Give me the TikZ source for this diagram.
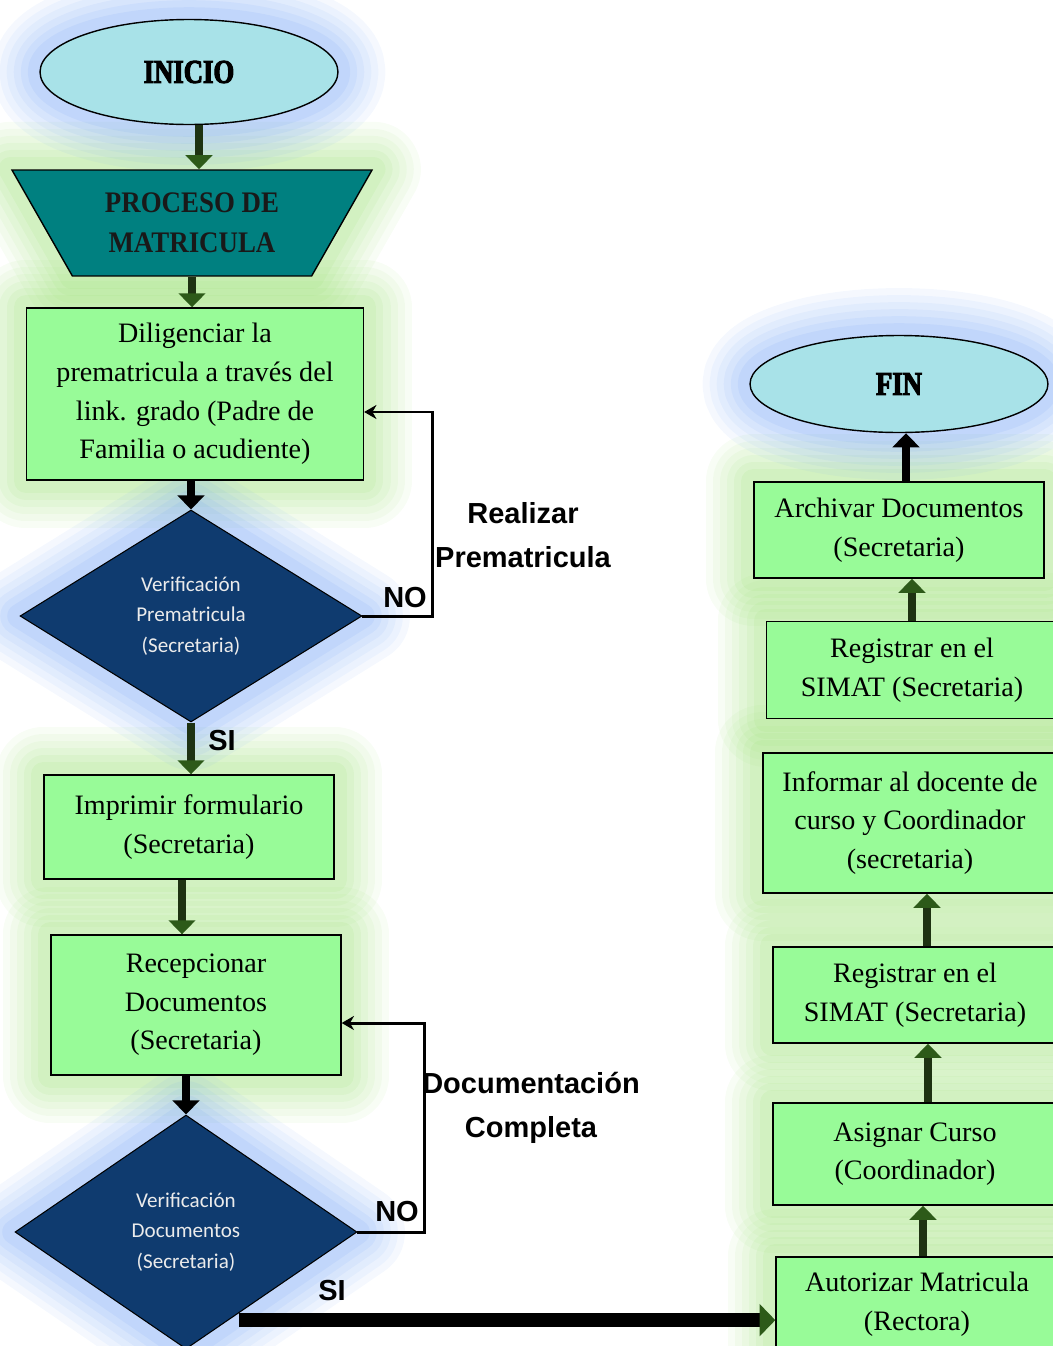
\documentclass[tikz,border=0pt]{standalone}
\usepackage{fontspec}
\setmainfont{Liberation Serif}
\newfontfamily\labelfont{Liberation Sans}
\newfontfamily\diamondfont{Carlito}
\newfontfamily\startfont[FakeStretch=0.8,FakeBold=3]{Liberation Serif Bold}
\newfontfamily\procfont[FakeStretch=0.9]{Liberation Serif Bold}
\usetikzlibrary{shapes.geometric, arrows.meta, backgrounds, calc}

\definecolor{boxgreen}{RGB}{152,251,152}
\definecolor{ovalblue}{RGB}{168,226,232}
\definecolor{procteal}{RGB}{0,128,128}
\definecolor{decblue}{RGB}{15,59,111}
\definecolor{glowgreen}{RGB}{150,222,110}
\definecolor{glowblue}{RGB}{110,160,245}
\definecolor{arrowdark}{RGB}{30,50,18}
\definecolor{arrowgreen}{RGB}{45,90,25}

\tikzset{
  glow/.style={preaction={draw=#1, line width=54pt, opacity=0.07, line join=round},
               preaction={draw=#1, line width=46pt, opacity=0.07, line join=round},
               preaction={draw=#1, line width=38pt, opacity=0.08, line join=round},
               preaction={draw=#1, line width=30pt, opacity=0.09, line join=round},
               preaction={draw=#1, line width=22pt, opacity=0.1, line join=round},
               preaction={draw=#1, line width=14pt, opacity=0.12, line join=round}},
  startoval/.style={ellipse, draw, line width=0.8pt, fill=ovalblue,
               minimum width=5.96cm, minimum height=2.1cm,
               font=\startfont\fontsize{19}{22}\selectfont},
  procshape/.style={trapezium, shape border rotate=180, trapezium left angle=57,
               trapezium right angle=57, trapezium stretches=true,
               minimum width=7.22cm, minimum height=2.12cm, draw, line width=0.8pt,
               fill=procteal, align=center, text=black!90,
               font=\procfont\fontsize{17}{23}\selectfont},
  taskbox/.style={rectangle, draw, line width=0.8pt, fill=boxgreen, align=center,
               inner sep=0pt, font=\fontsize{16}{22}\selectfont},
  decision/.style={diamond, aspect=1.6, draw, line width=0.6pt, fill=decblue,
               text=white!92!black, align=center, inner sep=0pt,
               font=\diamondfont\fontsize{12}{17.5}\selectfont},
  flowlabel/.style={align=center, inner sep=0pt,
               font=\labelfont\bfseries\fontsize{16.5}{25}\selectfont},
  flowarrow/.style={line width=5pt, draw=arrowdark,
               -{Triangle[width=15pt,length=8pt,color=arrowgreen]}},
  blackarrow/.style={line width=5pt, draw=black, -{Triangle[width=15pt,length=8pt]}},
  siarrow/.style={line width=8pt, draw=black,
               -{Triangle[width=18pt,length=9pt,color=arrowgreen]}},
  backline/.style={line width=1.7pt, draw=black, -{Stealth[width=8pt,length=7pt]}}
}

\begin{document}
\begin{tikzpicture}[x=0.02cm, y=-0.02cm]
  \useasboundingbox (0,0) rectangle (1053,1346);
  \clip (0,0) rectangle (1053,1346);

  % left column
  \node[startoval] (inicio) at (189,72) {INICIO};
  \node[procshape] (proceso) at (192,223) {PROCESO DE\\MATRICULA};
  \node[taskbox, minimum width=6.74cm, minimum height=3.44cm] (dil) at (195,394)
    {Diligenciar la\\prematricula a través del\\link. grado (Padre de\\Familia o acudiente)};
  \node[decision, minimum width=6.84cm, minimum height=4.24cm] (dv1) at (191,616)
    {Verificación\\Prematricula\\(Secretaria)};
  \node[taskbox, minimum width=5.8cm, minimum height=2.08cm] (imp) at (189,827)
    {Imprimir formulario\\(Secretaria)};
  \node[taskbox, minimum width=5.8cm, minimum height=2.8cm] (rec) at (196,1005)
    {Recepcionar\\Documentos\\(Secretaria)};
  \node[decision, minimum width=6.84cm, minimum height=4.68cm] (dv2) at (186,1232)
    {Verificación\\Documentos\\(Secretaria)};

  % right column
  \node[startoval, minimum height=1.94cm] (fin) at (899,384) {FIN};
  \node[taskbox, minimum width=5.8cm, minimum height=1.92cm] (arch) at (899,530)
    {Archivar Documentos\\(Secretaria)};
  \node[taskbox, minimum width=5.82cm, minimum height=1.94cm] (reg1) at (912,670)
    {Registrar en el\\SIMAT (Secretaria)};
  \node[taskbox, minimum width=5.88cm, minimum height=2.8cm] (inf) at (910,823)
    {Informar al docente de\\curso y Coordinador\\(secretaria)};
  \node[taskbox, minimum width=5.68cm, minimum height=1.92cm] (reg2) at (915,995)
    {Registrar en el\\SIMAT (Secretaria)};
  \node[taskbox, minimum width=5.68cm, minimum height=2.04cm] (asig) at (915,1154)
    {Asignar Curso\\(Coordinador)};
  \node[taskbox, minimum width=5.64cm, minimum height=1.88cm] (aut) at (917,1304)
    {Autorizar Matricula\\(Rectora)};

  % glows
  \begin{scope}[on background layer]
    \foreach \n in {dil, imp, rec, arch, reg1, inf, reg2, asig, aut}
      \path[glow=glowgreen] (\n.south west) rectangle (\n.north east);
    \foreach \n in {dv1, dv2}
      \path[glow=glowblue] (\n.north) -- (\n.east) -- (\n.south) -- (\n.west) -- cycle;
    \path[glow=glowgreen] (proceso.top left corner) -- (proceso.top right corner)
      -- (proceso.bottom right corner) -- (proceso.bottom left corner) -- cycle;
    \path[glow=glowblue] (inicio.center) ellipse [x radius=2.98cm, y radius=1.05cm];
    \path[glow=glowblue] (fin.center) ellipse [x radius=2.98cm, y radius=0.97cm];
  \end{scope}

  % labels
  \node[flowlabel] (no1) at (405,598) {NO};
  \node[flowlabel] (realizar) at (523,535) {Realizar\\Prematricula};
  \node[flowlabel] (si1) at (222,741) {SI};
  \node[flowlabel] (no2) at (397,1212) {NO};
  \node[flowlabel] (doccomp) at (531,1108) {Documentación\\Completa};
  \node[flowlabel] (si2) at (332,1291) {SI};

  % connectors
  \draw[flowarrow] ([xshift=0.2cm]inicio.south) -- ([xshift=0.2cm]inicio.south |- proceso.north);
  \draw[flowarrow] (proceso.south) -- (proceso.south |- dil.north);
  \draw[blackarrow] (dv1.north |- dil.south) -- (dv1.north);
  \draw[flowarrow] (dv1.south) -- (dv1.south |- imp.north);
  \draw[flowarrow] ([xshift=-0.14cm]imp.south) -- ([xshift=-0.14cm]imp.south |- rec.north);
  \draw[blackarrow] (dv2.north |- rec.south) -- (dv2.north);
  \draw[backline] (dv1.east) -- ++(70,0) |- ([yshift=-0.36cm]dil.east);
  \draw[backline] (dv2.east) -- ++(67,0) |- ([yshift=-0.36cm]rec.east);
  \coordinate (dv2si) at ($(dv2.east)!0.75!(dv2.south)$);
  \draw[siarrow] ([xshift=0.2cm]dv2si) -- (dv2si -| aut.west);
  \draw[flowarrow] ([xshift=0.12cm]aut.north) -- ([xshift=0.12cm]aut.north |- asig.south);
  \draw[flowarrow] ([xshift=0.26cm]asig.north) -- ([xshift=0.26cm]asig.north |- reg2.south);
  \draw[flowarrow] ([xshift=0.24cm]reg2.north) -- ([xshift=0.24cm]reg2.north |- inf.south);
  \draw[flowarrow] (reg1.north) -- (reg1.north |- arch.south);
  \draw[blackarrow] ([xshift=0.14cm]arch.north) -- ([xshift=0.14cm]arch.north |- fin.south);
\end{tikzpicture}
\end{document}
